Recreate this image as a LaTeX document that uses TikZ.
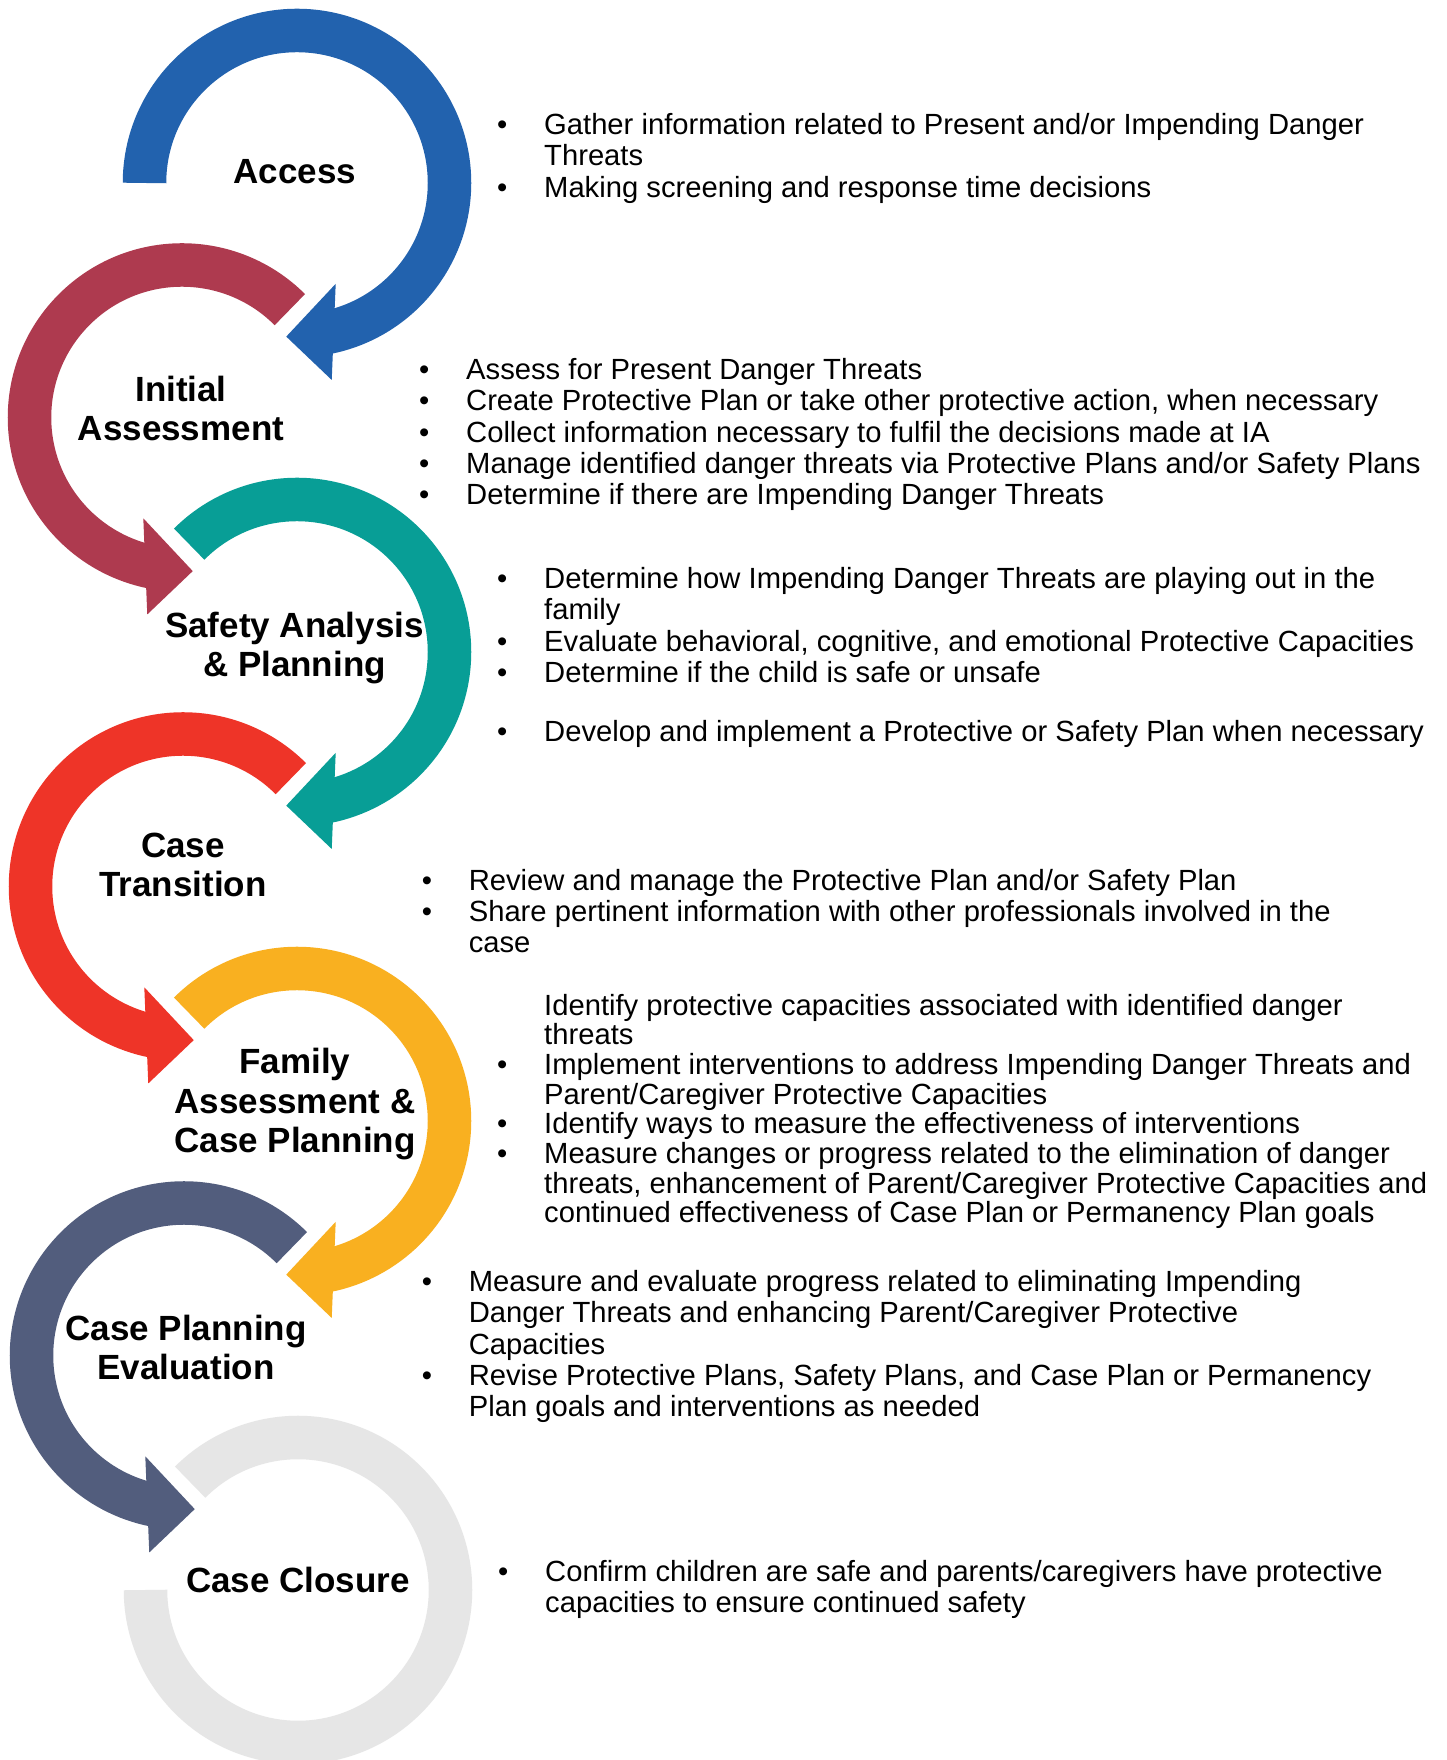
\documentclass[tikz,border=0pt]{standalone}
\usepackage{fontspec}
\setmainfont{Liberation Sans}

\definecolor{accessblue}{RGB}{34,98,174}
\definecolor{initialred}{RGB}{174,58,79}
\definecolor{safetyteal}{RGB}{8,158,150}
\definecolor{transitionred}{RGB}{238,52,40}
\definecolor{familyyellow}{RGB}{249,176,32}
\definecolor{evaluationnavy}{RGB}{82,93,125}
\definecolor{closuregray}{RGB}{230,230,230}

\newlength\bulletindent
\setlength\bulletindent{47pt}
\newcommand\bitem{\makebox[\bulletindent][l]{\textbullet}}
\newcommand\bcont{\hspace*{\bulletindent}}

\tikzset{
  ring/.style={line width=43.5pt},
  stagetitle/.style={font=\fontsize{35}{39.5}\selectfont\bfseries, align=center, anchor=base, inner sep=0pt},
  info/.style={font=\fontsize{29.2}{31.4}\selectfont, align=left, anchor=base west, inner sep=0pt}
}

\begin{document}
\begin{tikzpicture}[x=1pt,y=1pt]
  \useasboundingbox (0,0) rectangle (1447,1760);
  \fill[white] (0,0) rectangle (1447,1760);

  % ring centres
  \coordinate (access) at (297,1577);
  \coordinate (initial) at (182,1342.5);
  \coordinate (safety) at (297,1108);
  \coordinate (transition) at (183,873.5);
  \coordinate (family) at (297,639);
  \coordinate (evaluation) at (184,404.5);
  \coordinate (closure) at (298,170);

  % right column, turning clockwise
  \foreach \c/\col/\start in {access/accessblue/180, safety/safetyteal/135, family/familyyellow/135}
  {
    \draw[ring, \col] (\c) ++(\start:152.5) arc[start angle=\start, end angle=-79, radius=152.5];
    \fill[\col] ([shift={(291:108)}]\c) -- ([shift={(266:154)}]\c) -- ([shift={(280:200)}]\c) -- cycle;
  }
  % left column, turning anticlockwise
  \foreach \c/\col in {initial/initialred, transition/transitionred, evaluation/evaluationnavy}
  {
    \draw[ring, \col] (\c) ++(45:152.5) arc[start angle=45, end angle=259, radius=152.5];
    \fill[\col] ([shift={(249:108)}]\c) -- ([shift={(274:154)}]\c) -- ([shift={(260:200)}]\c) -- cycle;
  }
  \draw[ring, closuregray] (closure) ++(135:152.5) arc[start angle=135, end angle=-180, radius=152.5];

  % stage names (anchored on the last line)
  \node[stagetitle] (accesstitle) at (295,1576) {Access};
  \node[stagetitle] (initialtitle) at (181,1319) {Initial\\Assessment};
  \node[stagetitle] (safetytitle) at (294.5,1083) {Safety Analysis\\\& Planning};
  \node[stagetitle] (transitiontitle) at (183,863) {Case\\Transition};
  \node[stagetitle] (familytitle) at (295,607) {Family\\Assessment \&\\Case Planning};
  \node[stagetitle] (evaluationtitle) at (186,380) {Case Planning\\Evaluation};
  \node[stagetitle] (closuretitle) at (298,167) {Case Closure};

  % task lists (anchored on the last line)
  \node[info] (accessinfo) at (497,1562.7)
    {\bitem Gather information related to Present and/or Impending Danger\\
     \bcont Threats\\
     \bitem Making screening and response time decisions};
  \node[info] (initialinfo) at (419,1255)
    {\bitem Assess for Present Danger Threats\\
     \bitem Create Protective Plan or take other protective action, when necessary\\
     \bitem Collect information necessary to fulfil the decisions made at IA\\
     \bitem Manage identified danger threats via Protective Plans and/or Safety Plans\\
     \bitem Determine if there are Impending Danger Threats};
  \node[info] (safetyinfo) at (497,1018.3)
    {\bitem Determine how Impending Danger Threats are playing out in the\\
     \bcont family\\
     \bitem Evaluate behavioral, cognitive, and emotional Protective Capacities\\
     \bitem Determine if the child is safe or unsafe\\[27.5pt]
     \bitem Develop and implement a Protective or Safety Plan when necessary};
  \node[info] (transitioninfo) at (421.6,807)
    {\bitem Review and manage the Protective Plan and/or Safety Plan\\
     \bitem Share pertinent information with other professionals involved in the\\
     \bcont case};
  \node[info, font=\fontsize{29.2}{29.7}\selectfont] (familyinfo) at (497,537)
    {\bcont Identify protective capacities associated with identified danger\\
     \bcont threats\\
     \bitem Implement interventions to address Impending Danger Threats and\\
     \bcont Parent/Caregiver Protective Capacities\\
     \bitem Identify ways to measure the effectiveness of interventions\\
     \bitem Measure changes or progress related to the elimination of danger\\
     \bcont threats, enhancement of Parent/Caregiver Protective Capacities and\\
     \bcont continued effectiveness of Case Plan or Permanency Plan goals};
  \node[info] (evaluationinfo) at (421.6,343)
    {\bitem Measure and evaluate progress related to eliminating Impending\\
     \bcont Danger Threats and enhancing Parent/Caregiver Protective\\
     \bcont Capacities\\
     \bitem Revise Protective Plans, Safety Plans, and Case Plan or Permanency\\
     \bcont Plan goals and interventions as needed};
  \node[info] (closureinfo) at (498,147)
    {\bitem Confirm children are safe and parents/caregivers have protective\\
     \bcont capacities to ensure continued safety};
\end{tikzpicture}
\end{document}
